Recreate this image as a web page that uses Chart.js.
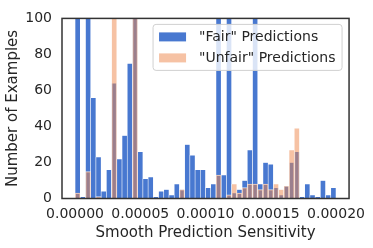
<!DOCTYPE html>
<html>
<head>
<meta charset="utf-8">
<script src="https://cdn.jsdelivr.net/npm/chart.js@4"></script>
<style>
  html, body { margin: 0; padding: 0; background: #fff; }
  #wrap { width: 373px; height: 248px; }
</style>
</head>
<body>
<div id="wrap"><canvas id="histChart" width="373" height="248"></canvas></div>
<script>
// histogram bins: 50 bins of width 4e-6 starting at 0
const binStart = 0;
const binWidth = 0.000004;
const fairCounts = [130, 1, 130, 56, 23, 4, 16, 64, 22, 35,
                    75, 130, 26, 11, 12, 1, 4, 5, 2, 8,
                    5, 30, 24, 16, 16, 6, 8, 130, 13, 130,
                    3, 5, 10, 27, 130, 8, 20, 19, 6, 2,
                    7, 20, 26, 1, 8, 2, 1, 10, 2, 6];
const unfairCounts = [3, 0, 15, 0, 1, 0, 0, 130, 0, 0,
                      0, 130, 0, 0, 0, 0, 0, 0, 0, 0,
                      5, 0, 0, 0, 0, 0, 0, 13, 0, 2,
                      8, 3, 6, 8, 8, 5, 8, 5, 8, 5,
                      7, 27, 39, 0, 0, 0, 0, 0, 0, 0];
const seriesNames = ['"Fair" Predictions', '"Unfair" Predictions'];
const xTicks = [0, 0.00005, 0.0001, 0.00015, 0.0002];
const yTicks = [0, 20, 40, 60, 80, 100];

const blue = 'rgb(72, 120, 208)';
const orange = 'rgba(238, 133, 74, 0.5)';
const textColor = '#262626';
const fontFamily = "'DejaVu Sans', sans-serif";

const binCenters = fairCounts.map((_, i) => binStart + (i + 0.5) * binWidth);

function toPoints(counts) {
    return counts.map((c, i) => ({ x: binCenters[i], y: c }));
}

// legend box inside the plot, top right
const boxLegend = {
    id: 'boxLegend',
    afterDraw(chart) {
        const ctx = chart.ctx;
        const area = chart.chartArea;
        const x0 = area.right - 196, y0 = area.top + 6, w = 189, h = 46;
        ctx.save();
        ctx.beginPath();
        ctx.roundRect(x0, y0, w, h, 3);
        ctx.fillStyle = 'rgba(255,255,255,0.8)';
        ctx.fill();
        ctx.strokeStyle = '#d0d0d0';
        ctx.lineWidth = 1;
        ctx.stroke();
        const colors = [blue, orange];
        ctx.font = '14px ' + fontFamily;
        ctx.textBaseline = 'middle';
        seriesNames.forEach((name, i) => {
            const cy = y0 + 12.5 + i * 21;
            ctx.fillStyle = colors[i];
            ctx.fillRect(x0 + 6, cy - 4.5, 27, 9);
            ctx.fillStyle = textColor;
            ctx.fillText(name, x0 + 46, cy);
        });
        ctx.restore();
    }
};

// dark frame around the plot area
const frame = {
    id: 'frame',
    afterDatasetsDraw(chart) {
        const { left, top, right, bottom } = chart.chartArea;
        const ctx = chart.ctx;
        ctx.save();
        ctx.strokeStyle = '#333';
        ctx.lineWidth = 1.5;
        ctx.strokeRect(left, top, right - left, bottom - top);
        ctx.restore();
    }
};

new Chart(document.getElementById('histChart').getContext('2d'), {
    type: 'bar',
    data: {
        datasets: [{
            label: seriesNames[0],
            data: toPoints(fairCounts),
            backgroundColor: blue,
            borderColor: 'rgba(255,255,255,0.8)',
            borderWidth: 0.6,
            order: 1
        }, {
            label: seriesNames[1],
            data: toPoints(unfairCounts),
            backgroundColor: orange,
            borderColor: 'rgba(255,255,255,0.8)',
            borderWidth: 0.6,
            order: 0
        }]
    },
    options: {
        responsive: false,
        devicePixelRatio: 1,
        animation: false,
        grouped: false,
        barPercentage: 1,
        categoryPercentage: 1,
        layout: { padding: { top: 12, right: 23, left: 0, bottom: 0 } },
        plugins: {
            legend: { display: false },
            tooltip: { enabled: false }
        },
        scales: {
            x: {
                type: 'linear',
                offset: false,
                min: -0.00001,
                max: 0.00021,
                afterBuildTicks: s => { s.ticks = xTicks.map(v => ({ value: v })); },
                afterFit: s => { s.height = 49.5; },
                grid: { display: false, drawTicks: false, offset: false },
                border: { display: false },
                ticks: {
                    callback: v => v.toFixed(5),
                    font: { family: fontFamily, size: 14 },
                    color: textColor,
                    padding: 7,
                    maxRotation: 0,
                    autoSkip: false
                },
                title: {
                    display: true,
                    text: 'Smooth Prediction Sensitivity',
                    font: { family: fontFamily, size: 15 },
                    color: textColor,
                    padding: { top: 0, bottom: 6 }
                }
            },
            y: {
                min: 0,
                max: 100,
                afterBuildTicks: s => { s.ticks = yTicks.map(v => ({ value: v })); },
                afterFit: s => { s.width = 62; },
                grid: { display: false, drawTicks: false },
                border: { display: false },
                ticks: {
                    font: { family: fontFamily, size: 14 },
                    color: textColor,
                    padding: 10
                },
                title: {
                    display: true,
                    text: 'Number of Examples',
                    font: { family: fontFamily, size: 15 },
                    color: textColor,
                    padding: { top: 4, bottom: 0 }
                }
            }
        }
    },
    plugins: [boxLegend, frame]
});
</script>
</body>
</html>
